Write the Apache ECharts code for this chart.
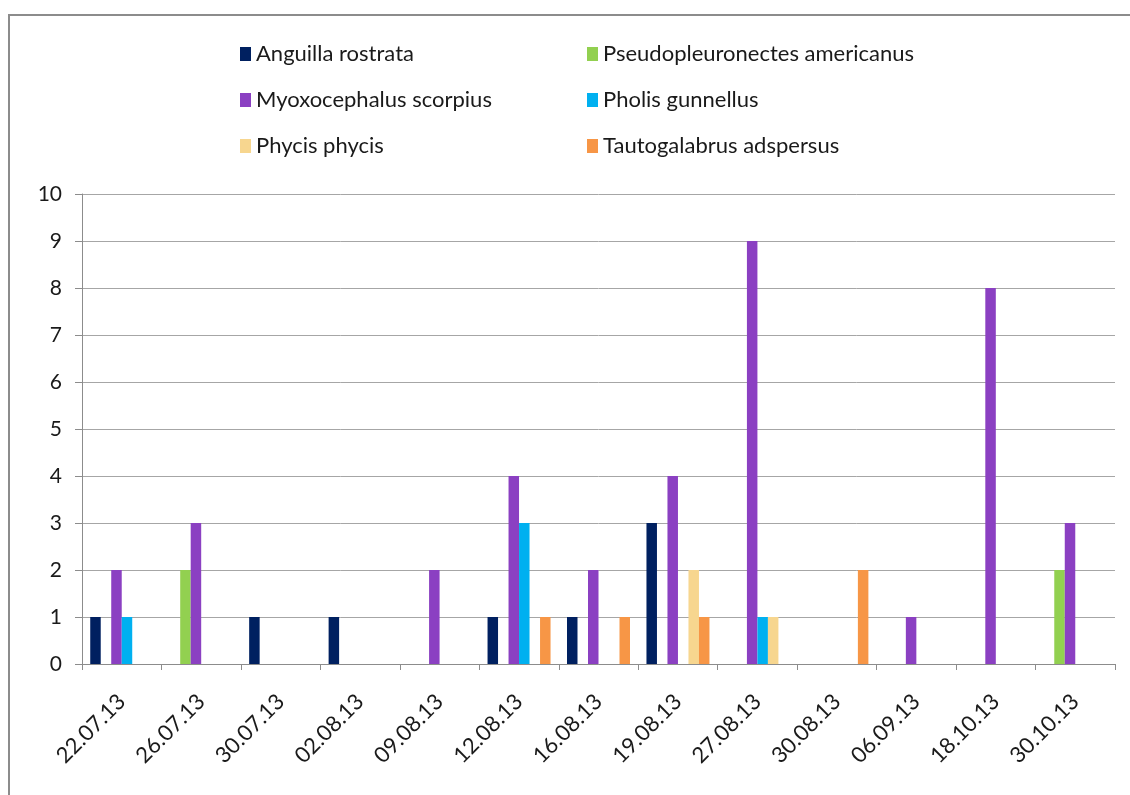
<!DOCTYPE html>
<html>
<head>
<meta charset="utf-8">
<script src="https://cdn.jsdelivr.net/npm/echarts@6/dist/echarts.min.js"></script>
<style>
  html, body { margin: 0; padding: 0; background: #fff; }
  #chart { width: 1130px; height: 795px; }
</style>
</head>
<body>
<div id="chart"></div>
<script>
// Sampling dates
const dates = ['22.07.13', '26.07.13', '30.07.13', '02.08.13', '09.08.13', '12.08.13',
  '16.08.13', '19.08.13', '27.08.13', '30.08.13', '06.09.13', '18.10.13', '30.10.13'];

// Counts per species on each date
const anguillaRostrata      = [1, 0, 1, 1, 0, 1, 1, 3, 0, 0, 0, 0, 0];
const pseudopleuronectesAm  = [0, 2, 0, 0, 0, 0, 0, 0, 0, 0, 0, 0, 2];
const myoxocephalusScorpius = [2, 3, 0, 0, 2, 4, 2, 4, 9, 0, 1, 8, 3];
const pholisGunnellus       = [1, 0, 0, 0, 0, 3, 0, 0, 1, 0, 0, 0, 0];
const phycisPhycis          = [0, 0, 0, 0, 0, 0, 0, 2, 1, 0, 0, 0, 0];
const tautogalabrusAdsp     = [0, 0, 0, 0, 0, 1, 1, 1, 0, 2, 0, 0, 0];

const yTicks = [0, 10, 1]; // min, max, step

const speciesList = [
  { name: 'Anguilla rostrata', data: anguillaRostrata, color: '#002060' },
  { name: 'Pseudopleuronectes americanus', data: pseudopleuronectesAm, color: '#92d050' },
  { name: 'Myoxocephalus scorpius', data: myoxocephalusScorpius, color: '#8b40c2' },
  { name: 'Pholis gunnellus', data: pholisGunnellus, color: '#00b0f0' },
  { name: 'Phycis phycis', data: phycisPhycis, color: '#f7d68f' },
  { name: 'Tautogalabrus adspersus', data: tautogalabrusAdsp, color: '#f79646' }
];

const FONT = 'Lato';
const chart = echarts.init(document.getElementById('chart'), null, { renderer: 'canvas' });

const legendBase = {
  orient: 'vertical',
  top: 37,
  itemWidth: 11,
  itemHeight: 14,
  itemGap: 22,
  icon: 'rect',
  selectedMode: false,
  textStyle: { fontFamily: FONT, fontSize: 22, color: '#1a1a1a', lineHeight: 24 }
};

chart.setOption({
  animation: false,
  backgroundColor: '#fff',
  graphic: [{
    type: 'polyline',
    shape: { points: [[9, 795], [9, 15], [1130, 15]] },
    style: { stroke: '#8c8c8c', lineWidth: 2, fill: null }
  }],
  legend: [
    Object.assign({}, legendBase, {
      left: 235,
      data: [speciesList[0].name, speciesList[2].name, speciesList[4].name]
    }),
    Object.assign({}, legendBase, {
      left: 582,
      data: [speciesList[1].name, speciesList[3].name, speciesList[5].name]
    })
  ],
  grid: { left: 82, right: 15, top: 194, bottom: 131, containLabel: false },
  xAxis: {
    type: 'category',
    data: dates,
    axisLine: { lineStyle: { color: '#8c8c8c', width: 1 } },
    axisTick: { show: true, length: 6, lineStyle: { color: '#8c8c8c' } },
    axisLabel: {
      rotate: 45,
      margin: 34,
      fontFamily: FONT,
      fontSize: 22,
      color: '#1a1a1a'
    }
  },
  yAxis: {
    type: 'value',
    min: yTicks[0],
    max: yTicks[1],
    interval: yTicks[2],
    axisLine: { show: true, lineStyle: { color: '#8c8c8c', width: 1 } },
    axisTick: { show: true, length: 7, lineStyle: { color: '#8c8c8c' } },
    axisLabel: { fontFamily: FONT, fontSize: 21, color: '#1a1a1a', margin: 20 },
    splitLine: { lineStyle: { color: '#a6a6a6', width: 1 } }
  },
  series: speciesList.map(s => ({
    type: 'bar',
    name: s.name,
    data: s.data,
    barWidth: 10.5,
    barGap: '0%',
    itemStyle: { color: s.color }
  }))
});
</script>
</body>
</html>
